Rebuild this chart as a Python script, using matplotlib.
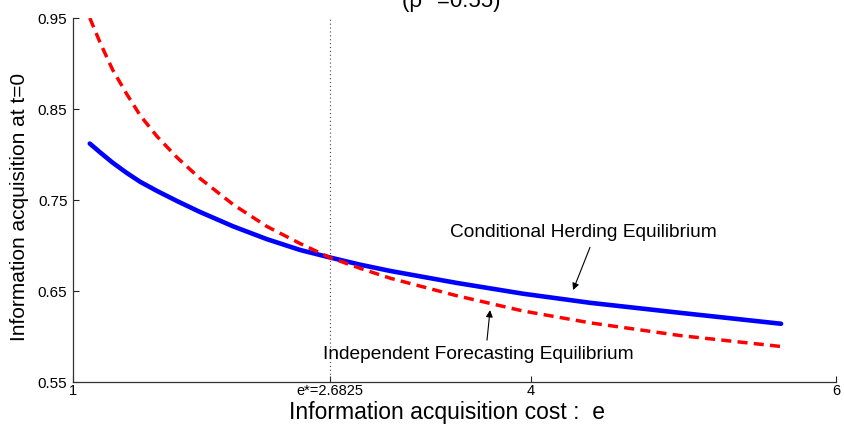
import matplotlib
matplotlib.use("Agg")
import matplotlib.pyplot as plt

plt.rcParams['font.family'] = ['Liberation Sans', 'DejaVu Sans']

# ---- data ----
cost = [1.11, 1.18, 1.26, 1.35, 1.44, 1.55, 1.68, 1.83, 2.05, 2.27, 2.49,
        2.68, 2.88, 3.08, 3.51, 3.95, 4.39, 4.98, 5.64]
herding = [0.812, 0.802, 0.791, 0.780, 0.770, 0.760, 0.749, 0.737, 0.721,
           0.707, 0.695, 0.687, 0.679, 0.672, 0.659, 0.647, 0.637, 0.626, 0.614]
independent = [0.950, 0.922, 0.893, 0.867, 0.843, 0.820, 0.797, 0.774, 0.745,
               0.721, 0.702, 0.687, 0.675, 0.664, 0.645, 0.628, 0.615, 0.601, 0.589]
e_star = 2.6825
xticks = [1, e_star, 4, 6]
xticklabels = ['1', 'e*=2.6825', '4', '6']
yticks = [0.55, 0.65, 0.75, 0.85, 0.95]
yticklabels = ['0.55', '0.65', '0.75', '0.85', '0.95']

fig = plt.figure(figsize=(8.45, 4.28), dpi=100)
ax = fig.add_axes([73/845, 1-382/428, (836-73)/845, (382-18)/428])

ax.plot(cost, herding, color=(0, 0, 1), lw=3.3, solid_capstyle='round',
        solid_joinstyle='round')
ax.plot(cost, independent, color=(1, 0, 0), lw=2.5, ls=(0, (2.9, 1.8)))
ax.axvline(e_star, color='#444444', ls=(0, (1, 2.5)), lw=0.8)

ax.set_xlim(1, 6)
ax.set_ylim(0.55, 0.95)
ax.set_xticks(xticks)
ax.set_xticklabels(xticklabels)
ax.set_yticks(yticks)
ax.set_yticklabels(yticklabels)
ax.tick_params(direction='in', length=4, width=0.8, labelsize=11, colors='#222222',
               labelcolor='black')
ax.tick_params(axis='x', pad=1.5, labelsize=10.5)
ax.tick_params(axis='y', pad=4)

for s in ['top', 'right']:
    ax.spines[s].set_visible(False)
for s in ['left', 'bottom']:
    ax.spines[s].set_color('#333333')
    ax.spines[s].set_linewidth(0.9)

ax.set_ylabel('Information acquisition at t=0', fontsize=15)
ax.yaxis.set_label_coords(-0.058, 0.48)
ax.set_xlabel('Information acquisition cost :  e', fontsize=16.5)
ax.xaxis.set_label_coords(0.49, -0.0535)

ax.text(4.342, 0.714, 'Conditional Herding Equilibrium', ha='center', va='center',
        fontsize=13.8)
ax.annotate('', xy=(4.277, 0.651), xytext=(4.388, 0.698),
            arrowprops=dict(arrowstyle='-|>', color='black', lw=0.8,
                            mutation_scale=10, shrinkA=0, shrinkB=0))
ax.text(3.654, 0.580, 'Independent Forecasting Equilibrium', ha='center', va='center',
        fontsize=13.8)
ax.annotate('', xy=(3.733, 0.629), xytext=(3.713, 0.596),
            arrowprops=dict(arrowstyle='-|>', color='black', lw=0.8,
                            mutation_scale=10, shrinkA=0, shrinkB=0))

fig.text(451/845, 1-7/428, '(ρ* =0.55)', ha='center', va='baseline', fontsize=16)

fig.savefig('out.png', dpi=100)
